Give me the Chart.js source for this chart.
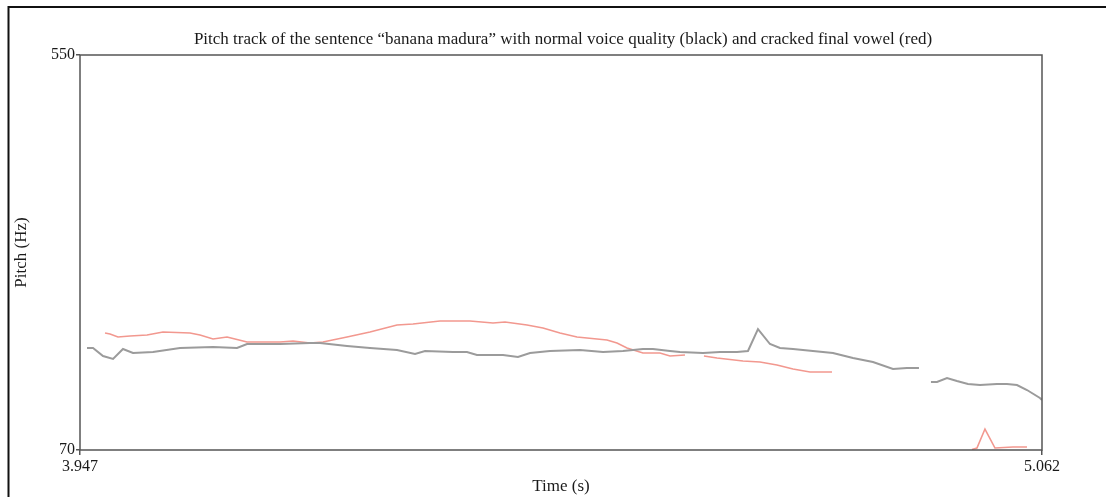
<!DOCTYPE html>
<html>
<head>
<meta charset="utf-8">
<script src="https://cdn.jsdelivr.net/npm/chart.js@4/dist/chart.umd.min.js"></script>
<style>
  html, body { margin: 0; padding: 0; background: #fff; }
  #wrap { width: 1106px; height: 497px; position: relative; }
</style>
</head>
<body>
<div id="wrap"><canvas id="c" width="1106" height="497"></canvas></div>
<script>
// Pitch track, normal voice quality (null = unvoiced gap)
const normalTime = [3.9551, 3.9621, 3.9737, 3.9853, 3.9968, 4.0084, 4.0316, 4.0629, 4.1012, 4.1290,
  4.1406, 4.1788, 4.2136, 4.2252, 4.2565, 4.2831, 4.3144, 4.3353, 4.3469, 4.3793,
  4.3955, 4.4071, 4.4373, 4.4546, 4.4686, 4.4917, 4.5265, 4.5532, 4.5763, 4.5995,
  4.6111, 4.6308, 4.6424, 4.6691, 4.6888, 4.7085, 4.7212, 4.7328, 4.7467, 4.7583,
  4.7734, 4.7965, 4.8197, 4.8429, 4.8661, 4.8893, 4.9055, 4.9194, 4.9260,
  4.9333, 4.9403, 4.9519, 4.9634, 4.9762, 4.9901, 5.0098, 5.0214, 5.0330, 5.0446,
  5.0596, 5.0620];
const normalPitch = [193.9, 193.9, 184.2, 180.6, 192.7, 187.9, 189.1, 193.9, 195.2, 193.9,
  198.8, 198.8, 200.0, 200.0, 196.4, 193.9, 191.5, 186.7, 190.3, 189.1,
  189.1, 185.4, 185.4, 183.0, 187.9, 190.3, 191.5, 189.1, 190.3, 192.7,
  192.7, 190.3, 189.1, 187.9, 189.1, 189.1, 190.3, 217.0, 198.8, 193.9,
  192.7, 190.3, 187.9, 181.8, 176.9, 168.4, 169.6, 169.6, null,
  152.6, 152.6, 157.5, 153.8, 150.2, 149.0, 150.2, 150.2, 149.0, 142.9,
  133.2, 130.8];

// Pitch track, cracked final vowel
const crackedTime = [3.9760, 3.9818, 3.9910, 4.0050, 4.0247, 4.0432, 4.0745, 4.0861, 4.1012, 4.1174,
  4.1406, 4.1788, 4.1939, 4.2136, 4.2286, 4.2565, 4.2831, 4.3144, 4.3330, 4.3642,
  4.3990, 4.4257, 4.4396, 4.4651, 4.4836, 4.5033, 4.5230, 4.5578, 4.5694, 4.5810,
  4.5995, 4.6192, 4.6308, 4.6482, 4.6590,
  4.6702, 4.6853, 4.7154, 4.7351, 4.7548, 4.7734, 4.7931, 4.8186, 4.9000,
  4.9808, 4.9866, 4.9959, 5.0075, 5.0284, 5.0446];
const crackedPitch = [212.2, 211.0, 207.3, 208.5, 209.7, 213.4, 212.2, 209.7, 204.9, 207.3,
  201.2, 201.2, 202.5, 200.0, 201.2, 207.3, 213.4, 221.9, 223.1, 226.8,
  226.8, 224.3, 225.5, 221.9, 218.3, 212.2, 207.3, 203.7, 200.0, 193.9,
  187.9, 187.9, 184.2, 185.4, null,
  184.2, 181.8, 178.2, 176.9, 173.3, 168.4, 164.8, 164.8, null,
  70.6, 72.4, 95.5, 72.4, 73.6, 73.6];

const yTicks = [70, 550];
const xTicks = [3.947, 5.062];

const toPoints = (ts, vs) => ts.map((t, i) => ({ x: t, y: vs[i] }));

const SERIF = '"Liberation Serif", "DejaVu Serif", serif';

const framePlugin = {
  id: 'frame',
  beforeDraw(chart) {
    const ctx = chart.ctx;
    ctx.save();
    ctx.fillStyle = '#fff';
    ctx.fillRect(0, 0, chart.width, chart.height);
    ctx.strokeStyle = '#111';
    ctx.lineWidth = 2;
    ctx.beginPath();
    ctx.moveTo(8.5, chart.height + 2);
    ctx.lineTo(8.5, 7);
    ctx.lineTo(chart.width + 2, 7);
    ctx.stroke();
    // title
    ctx.fillStyle = '#1a1a1a';
    ctx.font = '17px ' + SERIF;
    ctx.textAlign = 'center';
    ctx.textBaseline = 'middle';
    const a = chart.chartArea;
    ctx.fillText('Pitch track of the sentence \u201Cbanana madura\u201D with normal voice quality (black) and cracked final vowel (red)',
      (a.left + a.right) / 2 + 2, 40);
    ctx.restore();
  },
  afterDatasetsDraw(chart) {
    const a = chart.chartArea;
    const ctx = chart.ctx;
    ctx.save();
    ctx.strokeStyle = '#555';
    ctx.lineWidth = 1.5;
    ctx.strokeRect(a.left, a.top, a.right - a.left, a.bottom - a.top);
    ctx.restore();
  }
};

new Chart(document.getElementById('c'), {
  type: 'line',
  data: {
    datasets: [
      {
        label: 'normal',
        data: toPoints(normalTime, normalPitch),
        borderColor: '#9b9b9b',
        borderWidth: 2,
        pointRadius: 0,
        tension: 0,
        spanGaps: false
      },
      {
        label: 'cracked',
        data: toPoints(crackedTime, crackedPitch),
        borderColor: '#f2988f',
        borderWidth: 1.6,
        pointRadius: 0,
        tension: 0,
        spanGaps: false
      }
    ]
  },
  options: {
    responsive: false,
    animation: false,
    events: [],
    layout: { padding: { left: 0, top: 55, right: 64, bottom: 0 } },
    plugins: { legend: { display: false }, tooltip: { enabled: false }, title: { display: false } },
    scales: {
      x: {
        type: 'linear',
        min: xTicks[0],
        max: xTicks[1],
        afterFit(s) { s.height = 47; },
        afterBuildTicks(s) { s.ticks = xTicks.map(v => ({ value: v })); },
        border: { display: false },
        grid: { drawOnChartArea: false, tickLength: 5, color: '#555', lineWidth: 1.5 },
        ticks: {
          autoSkip: false,
          maxRotation: 0,
          padding: 2,
          color: '#1a1a1a',
          font: { family: SERIF, size: 16 },
          callback: v => v.toFixed(3)
        },
        title: {
          display: true,
          text: 'Time (s)',
          color: '#1a1a1a',
          font: { family: SERIF, size: 17 },
          padding: { top: 0, bottom: 0 }
        }
      },
      y: {
        type: 'linear',
        min: yTicks[0],
        max: yTicks[1],
        afterFit(s) { s.width = 80; },
        afterBuildTicks(s) { s.ticks = yTicks.map(v => ({ value: v })); },
        border: { display: false },
        grid: { drawOnChartArea: false, tickLength: 4, color: '#555', lineWidth: 1.5 },
        ticks: {
          autoSkip: false,
          padding: 1,
          color: '#1a1a1a',
          font: { family: SERIF, size: 16 },
          callback: v => String(v)
        },
        title: {
          display: true,
          text: 'Pitch (Hz)',
          color: '#1a1a1a',
          font: { family: SERIF, size: 17 },
          padding: { top: 11, bottom: 0 }
        }
      }
    }
  },
  plugins: [framePlugin]
});
</script>
</body>
</html>
